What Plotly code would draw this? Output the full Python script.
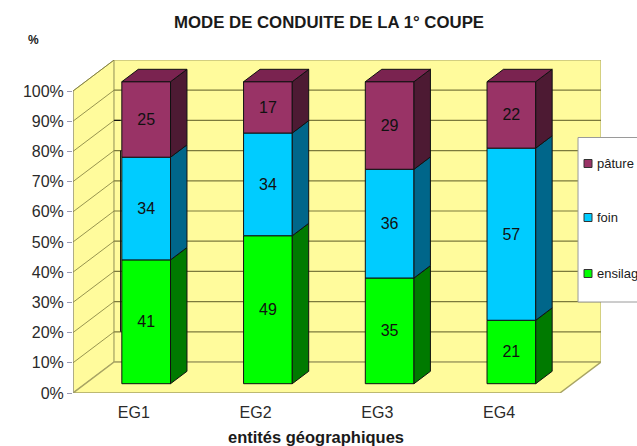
import plotly.graph_objects as go

categories = ["EG1", "EG2", "EG3", "EG4"]
ensilage = [41, 49, 35, 21]
foin = [34, 34, 36, 57]
paturage = [25, 17, 29, 22]
y_ticks = [0, 10, 20, 30, 40, 50, 60, 70, 80, 90, 100]

series = [
    ("ensilage", ensilage, "#00FF00", "#007A00", None),
    ("foin", foin, "#00CCFF", "#00668A", None),
    ("pâture", paturage, "#993366", "#4D1A33", "#7A2350"),
]

W, H = 637, 446
L, R, T, B = 73, 601.5, 60, 393
UX = 121.5            # pixels per category
UY = 3.02             # pixels per percent
DX = 41 / UX          # wall depth in x units
DY = 31 / UY          # wall depth in y units
NEAR, FAR = 0.3, 0.7  # bar depth position inside the floor
BAR_W = 0.4
WALL = "#FFFB9C"
EDGE = "#A8A464"
GRID = "#7C7A3C"
TEXT = "#1A1A1A"


def px(x):
    return (x - L) / (R - L)


def py(y):
    return (B - y) / (B - T)


n = len(categories)
x_end = n
shapes = [
    # side wall
    dict(type="path", xref="x", yref="y", layer="below", fillcolor=WALL, line=dict(color=EDGE, width=1),
         path=f"M0,0 L{DX},{DY} L{DX},{100+DY} L0,100 Z"),
    # back wall
    dict(type="rect", xref="x", yref="y", layer="below", fillcolor=WALL, line=dict(color=EDGE, width=1),
         x0=DX, x1=x_end + DX, y0=DY, y1=100 + DY),
    # floor
    dict(type="path", xref="x", yref="y", layer="below", fillcolor=WALL, line=dict(color=EDGE, width=1.5),
         path=f"M0,0 L{x_end},0 L{x_end+DX},{DY} L{DX},{DY} Z"),
    # front-left edge
    dict(type="line", xref="x", yref="y", layer="below", x0=0, x1=0, y0=0, y1=100,
         line=dict(color="#8C8C8C", width=1)),
]
for v in y_ticks[1:]:
    shapes.append(dict(type="line", xref="x", yref="y", layer="below", x0=0, x1=DX, y0=v, y1=v + DY,
                       line=dict(color=GRID, width=0.8)))
    if v < 100:
        shapes.append(dict(type="line", xref="x", yref="y", layer="below", x0=DX, x1=x_end + DX, y0=v + DY, y1=v + DY,
                           line=dict(color=GRID, width=1.2)))
for i in range(n + 1):
    shapes.append(dict(type="line", xref="x", yref="y", layer="below", x0=i, x1=i, y0=0, y1=-1.4,
                       line=dict(color="#8C8C8C", width=1)))

fig = go.Figure()
centers = [i + 0.5 + NEAR * DX for i in range(n)]
# dark stroke along the left of the first bar, seen in the picture
edge_x = centers[0] - BAR_W / 2 - 1.2 / UX
shapes.append(dict(type="line", xref="x", yref="y", layer="below", x0=edge_x, x1=edge_x, y0=10 + DY, y1=70 + DY,
                   line=dict(color="#111111", width=1.2)))
shapes.append(dict(type="line", xref="x", yref="y", layer="below", x0=DX, x1=edge_x, y0=80 + DY, y1=80 + DY,
                   line=dict(color="#111111", width=1.2)))
base = [0.0] * n
for name, vals, col, side, top in series:
    offset_base = [b + NEAR * DY for b in base]
    fig.add_trace(go.Bar(
        x=centers, y=vals, base=offset_base, width=BAR_W, name=name,
        marker=dict(color=col, line=dict(color="#111111", width=1)),
        text=[str(v) for v in vals], textposition="inside", insidetextanchor="middle",
        textangle=0, constraintext="none",
        textfont=dict(family="Liberation Sans", size=16, color="#111111"),
        showlegend=False, hoverinfo="skip",
    ))
    for c, b0, v in zip(centers, offset_base, vals):
        xr = c + BAR_W / 2
        d_x, d_y = (FAR - NEAR) * DX, (FAR - NEAR) * DY
        fig.add_trace(go.Scatter(
            x=[xr, xr + d_x, xr + d_x, xr, xr], y=[b0, b0 + d_y, b0 + v + d_y, b0 + v, b0],
            mode="lines", fill="toself", fillcolor=side, line=dict(color="#111111", width=1),
            showlegend=False, hoverinfo="skip",
        ))
        if top:
            xl = c - BAR_W / 2
            t = b0 + v
            fig.add_trace(go.Scatter(
                x=[xl, xr, xr + d_x, xl + d_x, xl], y=[t, t, t + d_y, t + d_y, t],
                mode="lines", fill="toself", fillcolor=top, line=dict(color="#111111", width=1),
                showlegend=False, hoverinfo="skip",
            ))
    base = [b + v for b, v in zip(base, vals)]

# legend box drawn on the page, running off the right-hand edge as in the picture
shapes.append(dict(type="rect", xref="paper", yref="paper", x0=px(578.5), x1=px(660), y0=py(302), y1=py(137.5),
                   fillcolor="white", line=dict(color="#9A9A9A", width=1)))
annotations = []
legend_rows = [("pâture", "#993366", 163), ("foin", "#00CCFF", 217), ("ensilage", "#00FF00", 273)]
for label, col, yy in legend_rows:
    shapes.append(dict(type="rect", xref="paper", yref="paper", x0=px(584.5), x1=px(592.5), y0=py(yy + 4.5), y1=py(yy - 3.5),
                       fillcolor=col, line=dict(color="#333333", width=1)))
    annotations.append(dict(xref="paper", yref="paper", x=px(595.5), y=py(yy), text=label, showarrow=False,
                            xanchor="left", yanchor="middle", xshift=0,
                            font=dict(family="Liberation Sans", size=13, color=TEXT)))
annotations.append(dict(xref="paper", yref="paper", x=px(33), y=py(40), text="<b>%</b>", showarrow=False,
                        xanchor="center", yanchor="middle",
                        font=dict(family="Liberation Sans", size=12, color=TEXT)))
annotations.append(dict(xref="paper", yref="paper", x=px(316.5), y=py(437), text="<b>entités géographiques</b>",
                        showarrow=False, xanchor="center", yanchor="middle",
                        font=dict(family="Liberation Sans", size=16.5, color=TEXT)))
annotations.append(dict(xref="paper", yref="paper", x=px(329), y=py(23), text="<b>MODE DE CONDUITE DE LA 1° COUPE</b>",
                        showarrow=False, xanchor="center", yanchor="middle",
                        font=dict(family="Liberation Sans", size=16.8, color=TEXT)))

fig.update_layout(
    width=W, height=H, autosize=False,
    margin=dict(l=L, r=W - R, t=T, b=H - B, pad=0, autoexpand=False),
    paper_bgcolor="white", plot_bgcolor="rgba(0,0,0,0)",
    barmode="overlay", showlegend=False, shapes=shapes, annotations=annotations,
    xaxis=dict(range=[0, x_end + DX], tickmode="array", tickvals=[i + 0.5 for i in range(n)], ticktext=categories,
               ticks="outside", ticklen=5, tickcolor="rgba(0,0,0,0)", showgrid=False, zeroline=False, showline=False,
               tickfont=dict(family="Liberation Sans", size=16, color="#2A2A2A")),
    yaxis=dict(range=[0, 100 + DY], tickmode="array", tickvals=y_ticks, ticktext=[f"{v}%" for v in y_ticks],
               ticks="outside", ticklen=5, tickcolor="#9A9AB4", showgrid=False, zeroline=False, showline=False,
               tickfont=dict(family="Liberation Sans", size=16, color="#2A2A2A")),
)
fig.write_html("out.html", config={"displayModeBar": False},
               post_script="document.body.style.margin='0';document.body.style.overflow='hidden';")
